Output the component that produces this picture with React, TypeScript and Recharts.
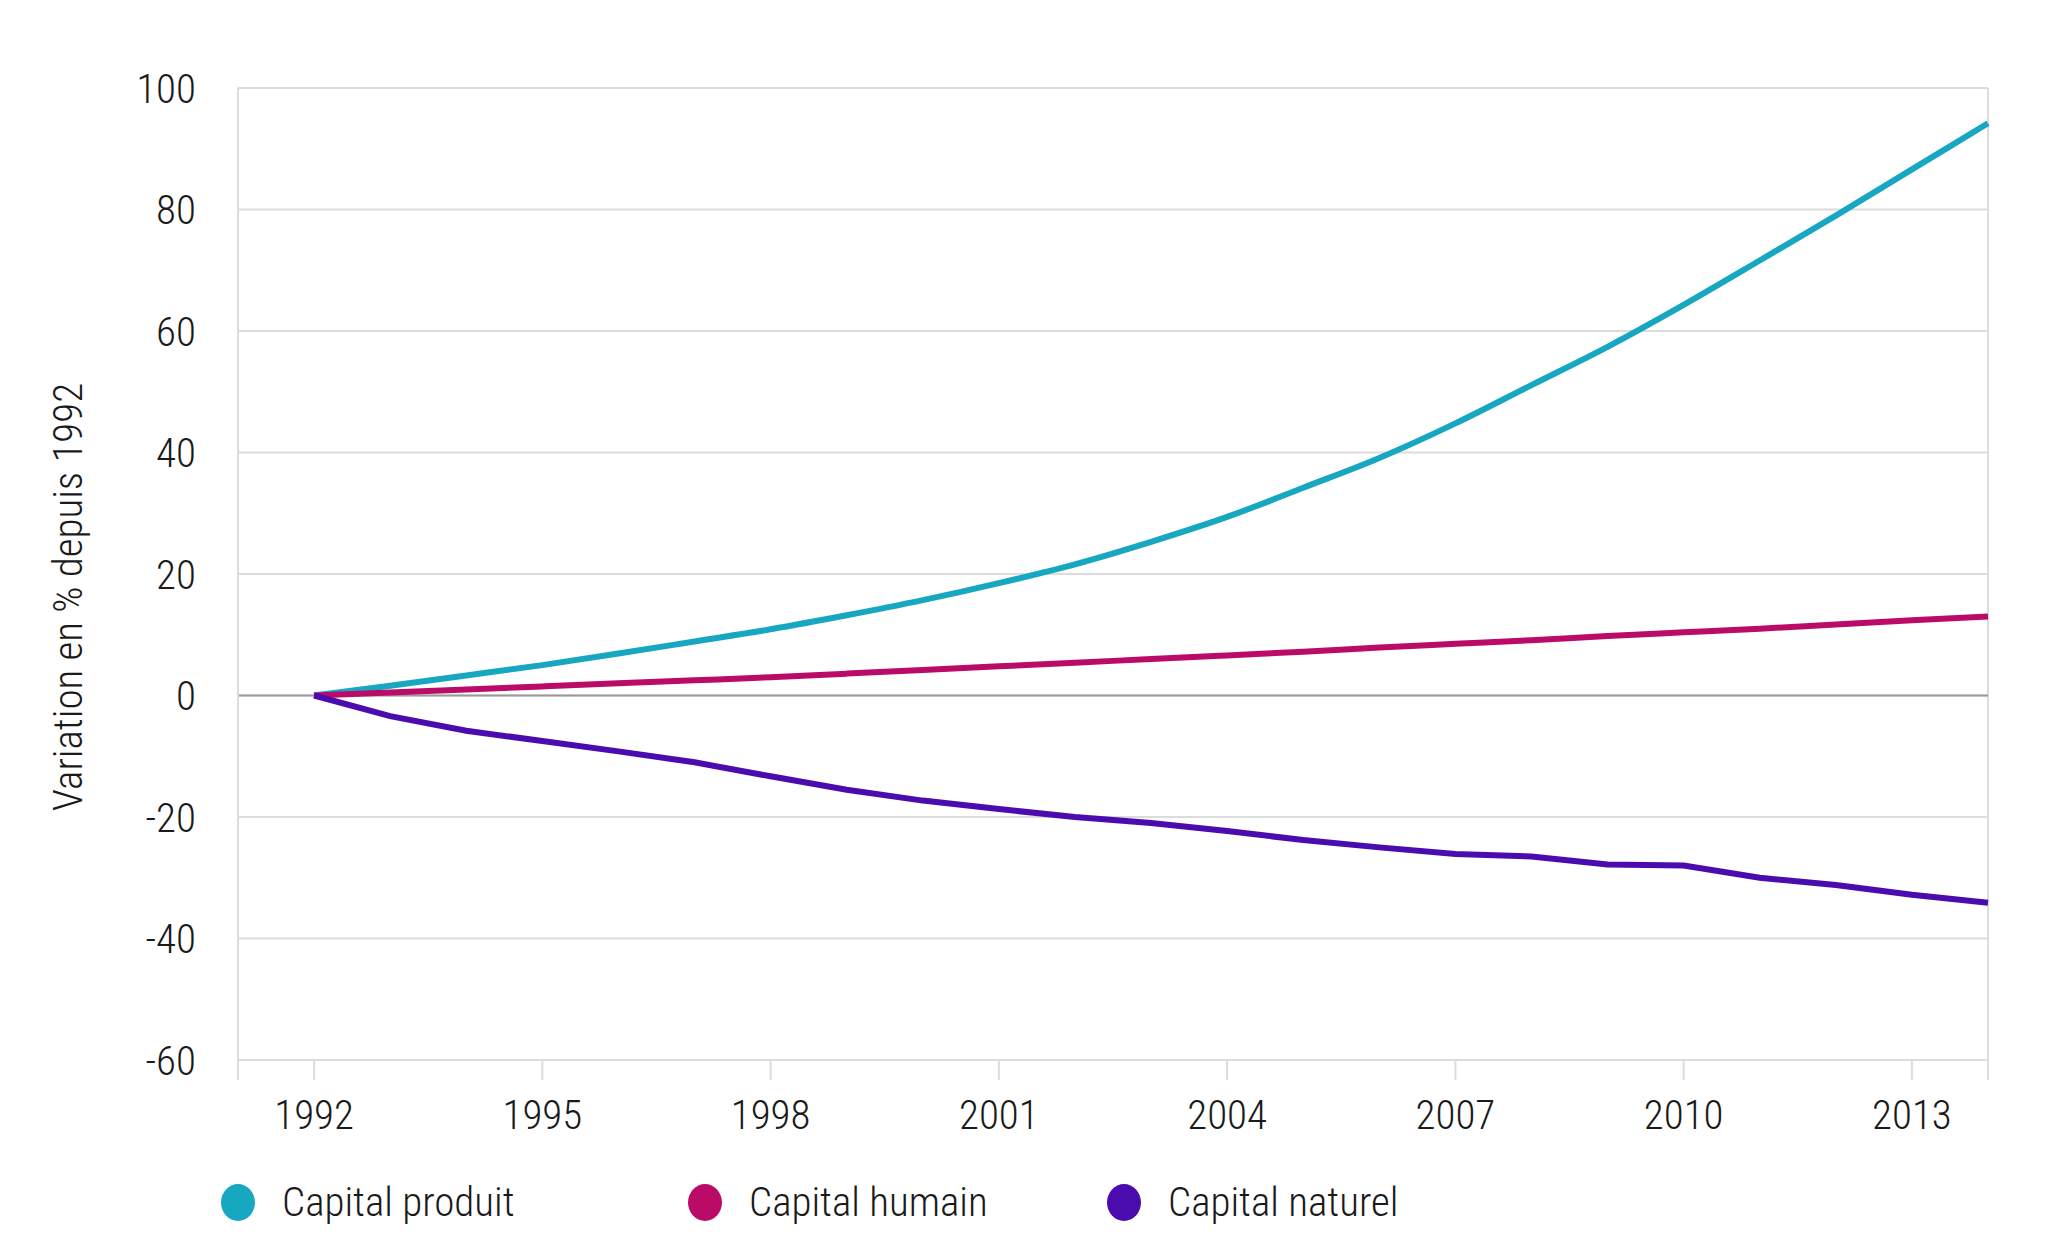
import {
  CartesianGrid,
  Legend,
  Line,
  LineChart,
  ReferenceLine,
  XAxis,
  YAxis,
} from "recharts";

const years = [
  1992, 1993, 1994, 1995, 1996, 1997, 1998, 1999, 2000, 2001, 2002, 2003,
  2004, 2005, 2006, 2007, 2008, 2009, 2010, 2011, 2012, 2013, 2014,
];

const capitalProduit = [
  0, 1.6, 3.3, 5.0, 6.9, 8.9, 10.9, 13.2, 15.7, 18.5, 21.6, 25.3,
  29.4, 34.2, 39.1, 44.8, 51.1, 57.4, 64.3, 71.6, 79.0, 86.6, 94.2,
];

const capitalHumain = [
  0, 0.5, 1.0, 1.5, 2.0, 2.5, 3.0, 3.6, 4.2, 4.8, 5.4, 6.0,
  6.6, 7.2, 7.9, 8.5, 9.1, 9.8, 10.4, 11.0, 11.7, 12.4, 13.0,
];

const capitalNaturel = [
  0, -3.4, -5.8, -7.5, -9.2, -11.0, -13.3, -15.5, -17.3, -18.7, -20.0, -21.0,
  -22.3, -23.8, -25.0, -26.1, -26.5, -27.8, -28.0, -30.0, -31.2, -32.8, -34.1,
];

const xTicks = [1991, 1992, 1995, 1998, 2001, 2004, 2007, 2010, 2013, 2014];
const yTicks = [-60, -40, -20, 0, 20, 40, 60, 80, 100];

const SERIES = [
  { key: "produit", label: "Capital produit", color: "#17a7c1", curve: "monotone" },
  { key: "humain", label: "Capital humain", color: "#bb0b68", curve: "monotone" },
  { key: "naturel", label: "Capital naturel", color: "#4a0caf", curve: "linear" },
] as const;

const FONT = "'Roboto Condensed', 'Liberation Sans Narrow', 'DejaVu Sans Condensed', Roboto, sans-serif";
const FONT_SIZE = 41;
const FONT_WEIGHT = 300;
const TEXT = "#1a1a1a";
const GRID = "#dcdcdc";

const data = years.map((year, i) => ({
  year,
  produit: capitalProduit[i],
  humain: capitalHumain[i],
  naturel: capitalNaturel[i],
}));

const LEGEND_X = [238, 705, 1124];

function ChartLegend() {
  return (
    <div style={{ position: "relative", height: 100, fontFamily: FONT }}>
      {SERIES.map((s, i) => (
        <div
          key={s.key}
          style={{
            position: "absolute",
            left: LEGEND_X[i] - 17,
            top: 50,
            transform: "translateY(-50%)",
            display: "flex",
            alignItems: "center",
            whiteSpace: "nowrap",
          }}
        >
          <span
            style={{
              display: "inline-block",
              width: 34,
              height: 37,
              borderRadius: "50%",
              background: s.color,
              marginRight: 27,
            }}
          />
          <span style={{ fontSize: FONT_SIZE, fontWeight: FONT_WEIGHT, color: TEXT }}>{s.label}</span>
        </div>
      ))}
    </div>
  );
}

function YTitle(props: any) {
  const vb = props.viewBox;
  const x = vb.x + 68;
  const y = vb.y + vb.height / 2 + 23;
  return (
    <text
      x={x}
      y={y}
      transform={`rotate(-90 ${x} ${y})`}
      textAnchor="middle"
      dominantBaseline="central"
      fill={TEXT}
      fontSize={FONT_SIZE}
      fontWeight={FONT_WEIGHT}
      fontFamily={FONT}
    >
      Variation en % depuis 1992
    </text>
  );
}

const tickStyle = { fontSize: FONT_SIZE, fontWeight: FONT_WEIGHT, fill: TEXT, fontFamily: FONT };

export default function App() {
  return (
    <div style={{ position: "absolute", left: 0, top: 0, width: 2048, height: 1252, background: "#fff" }}>
      <LineChart
        width={2048}
        height={1252}
        data={data}
        margin={{ top: 88, right: 60, bottom: 0, left: 0 }}
      >
        <CartesianGrid stroke={GRID} strokeWidth={2} vertical={false} />
        <XAxis
          dataKey="year"
          type="number"
          domain={[1991, 2014]}
          ticks={xTicks}
          interval={0}
          height={92}
          axisLine={{ stroke: GRID, strokeWidth: 2 }}
          tickLine={{ stroke: GRID, strokeWidth: 2 }}
          tickSize={20}
          tickMargin={20}
          tickFormatter={(v: number) => (v === 1991 || v === 2014 ? "" : String(v))}
          tick={tickStyle}
        />
        <YAxis
          type="number"
          domain={[-60, 100]}
          ticks={yTicks}
          interval={0}
          width={238}
          axisLine={{ stroke: GRID, strokeWidth: 2 }}
          tickLine={false}
          tickSize={0}
          tickMargin={42}
          tick={tickStyle}
          label={<YTitle />}
        />
        <ReferenceLine x={2014} stroke={GRID} strokeWidth={2} />
        <ReferenceLine y={0} stroke="#9a9a9a" strokeWidth={2} />
        <Legend verticalAlign="bottom" content={<ChartLegend />} />
        {SERIES.map((s) => (
          <Line
            key={s.key}
            type={s.curve}
            dataKey={s.key}
            name={s.label}
            stroke={s.color}
            strokeWidth={6}
            dot={false}
            activeDot={false}
            isAnimationActive={false}
          />
        ))}
      </LineChart>
    </div>
  );
}
